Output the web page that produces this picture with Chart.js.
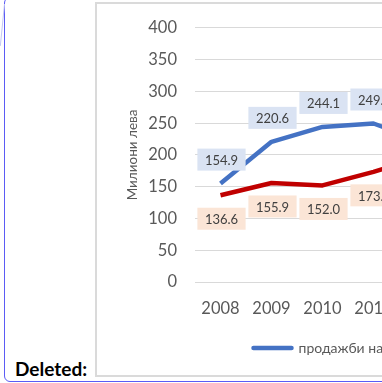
<!DOCTYPE html>
<html>
<head>
<meta charset="utf-8">
<script src="https://cdn.jsdelivr.net/npm/chart.js@4.4.1/dist/chart.umd.min.js"></script>
<style>
  html, body { margin: 0; padding: 0; width: 382px; height: 383px; overflow: hidden; background: #fff; }
  #frame { position: absolute; left: 4px; top: -3px; width: 640px; height: 385px; box-sizing: border-box;
           border: 1.5px solid #5b5bf5; border-radius: 6px; }
  #tick { position: absolute; left: 4px; top: 4px; width: 1px; height: 42px; background: #c4c8f4;
          transform-origin: top left; transform: rotate(5.7deg); }
  #box { position: absolute; left: 95px; top: 2px; width: 640px; height: 375px; box-sizing: border-box;
         border: 2px solid #dadada; background: #fff; }
  #wrap { position: absolute; left: 96px; top: 0; width: 560px; height: 383px; }
  #note { position: absolute; left: 15px; top: 359px; font: bold 19px Lato, "Open Sans", sans-serif;
          line-height: 19px; color: #000; }
</style>
</head>
<body>
<div id="frame"></div>
<div id="tick"></div>
<div id="box"></div>
<div id="wrap"><canvas id="sales" width="560" height="383"></canvas></div>
<div id="note">Deleted:</div>
<script>
const years = ["2008", "2009", "2010", "2011", "2012"];
const wholesale = [154.9, 220.6, 244.1, 249.5, 220.0];
const retail = [136.6, 155.9, 152.0, 173.4, 198.0];
const yTickValues = [0, 50, 100, 150, 200, 250, 300, 350, 400];
const seriesNames = ["продажби на едро", "продажби на дребно"];

const FONT = 'Lato, "Open Sans", sans-serif';
const GREY_TEXT = "#595959";

// plot geometry: canvas 560 wide, y axis 99, right padding 20 -> 441px of plot,
// one year every 51px starting half a step in
const CANVAS_W = 560, Y_AXIS_W = 99, PAD_RIGHT = 20, YEAR_STEP = 51;
const X_MIN = +years[0] - 0.5;
const X_MAX = X_MIN + (CANVAS_W - Y_AXIS_W - PAD_RIGHT) / YEAR_STEP;

// value boxes: blue ones sit above the line, peach ones below
const valueBoxes = {
    id: "valueBoxes",
    afterDatasetsDraw(chart) {
        const ctx = chart.ctx;
        ctx.save();
        ctx.font = "13px " + FONT;
        ctx.textAlign = "center";
        ctx.textBaseline = "middle";
        chart.data.datasets.forEach((ds, i) => {
            const meta = chart.getDatasetMeta(i);
            meta.data.forEach((pt, j) => {
                const text = ds.data[j].toFixed(1);
                const w = ctx.measureText(text).width + 15;
                const h = 22;
                const cy = pt.y + ds.labelShift;
                ctx.fillStyle = ds.labelFill;
                ctx.fillRect(pt.x + 1 - w / 2, cy - h / 2, w, h);
                ctx.fillStyle = "#404040";
                ctx.fillText(text, pt.x + 1, cy + 1);
            });
        });
        ctx.restore();
    },
};

// legend is laid out full width; slide it so the first entry starts under 2009
const legendShift = {
    id: "legendShift",
    afterLayout(chart) {
        const lg = chart.legend;
        const dx = 157.5 - lg.left - lg.options.labels.padding;
        lg.left += dx;
        lg.right += dx;
    },
};

new Chart(document.getElementById("sales"), {
    type: "line",
    data: {
        labels: years,
        datasets: [
            {
                label: seriesNames[0],
                data: wholesale,
                borderColor: "#4472c4",
                backgroundColor: "#4472c4",
                borderWidth: 4.5,
                pointRadius: 0,
                borderJoinStyle: "round",
                labelShift: -24,
                labelFill: "#dae3f3",
            },
            {
                label: seriesNames[1],
                data: retail,
                borderColor: "#c00000",
                backgroundColor: "#c00000",
                borderWidth: 4.5,
                pointRadius: 0,
                borderJoinStyle: "round",
                labelShift: 23.5,
                labelFill: "#fbe5d6",
            },
        ],
    },
    options: {
        responsive: false,
        animation: false,
        layout: { padding: { top: 27, bottom: 18, left: 0, right: PAD_RIGHT } },
        plugins: {
            tooltip: { enabled: false },
            legend: {
                position: "bottom",
                align: "start",
                labels: {
                    usePointStyle: true,
                    pointStyle: "line",
                    pointStyleWidth: 38,
                    padding: 10,
                    color: GREY_TEXT,
                    font: { family: FONT, size: 14 },
                    generateLabels(chart) {
                        return Chart.defaults.plugins.legend.labels
                            .generateLabels(chart)
                            .map((l) => ({ ...l, lineCap: "round" }));
                    },
                },
            },
        },
        scales: {
            x: {
                type: "linear",
                min: X_MIN,
                max: X_MAX,
                afterBuildTicks(s) { s.ticks = years.map((y) => ({ value: +y })); },
                grid: { display: false },
                border: { display: false },
                ticks: {
                    color: GREY_TEXT,
                    font: { family: FONT, size: 16.5 },
                    padding: 9,
                    callback: (v) => String(v),
                },
                afterFit(s) { s.height = 49; },
            },
            y: {
                min: 0,
                max: 400,
                afterBuildTicks(s) { s.ticks = yTickValues.map((v) => ({ value: v })); },
                grid: { color: "#d9d9d9", lineWidth: 1, drawTicks: false },
                border: { display: false },
                ticks: { color: GREY_TEXT, font: { family: FONT, size: 16.5 }, padding: 18 },
                title: {
                    display: true,
                    text: "Милиони лева",
                    color: GREY_TEXT,
                    font: { family: FONT, size: 13.5 },
                    padding: { top: 29, bottom: 0 },
                },
                afterFit(s) { s.width = Y_AXIS_W; },
            },
        },
    },
    plugins: [valueBoxes, legendShift],
});
</script>
</body>
</html>
